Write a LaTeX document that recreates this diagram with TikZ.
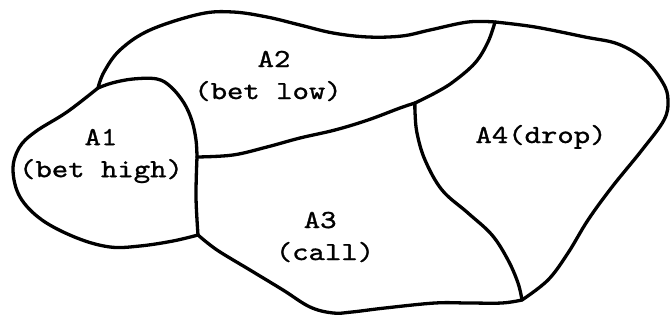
\documentclass[tikz,border=0pt]{standalone}
\usepackage{fontspec}
\setmonofont{lmmono10-regular.otf}[FakeBold=1.0]
\begin{document}
\begin{tikzpicture}[x=1pt,y=-1pt,
  edge/.style={line width=3.3pt,line cap=round,line join=round},
  lbl/.style={font=\ttfamily\fontsize{26}{32}\selectfont,align=center,inner sep=0pt,xscale=1.2,transform shape}]
\useasboundingbox (0,0) rectangle (670,321);
\fill[white] (0,0) rectangle (670,321);
% junctions
\coordinate (P1) at (98,88);
\coordinate (P2) at (197,157);
\coordinate (P3) at (198,235);
\coordinate (P4) at (495,22);
\coordinate (P5) at (415,103);
\coordinate (P6) at (522,300);
% A1 boundary
\draw[edge] plot[smooth,tension=0.6] coordinates {(P1) (112,83) (133,79) (157,79) (171,87) (184,103) (192,121) (196,140) (P2)};
\draw[edge] plot[smooth,tension=0.6] coordinates {(P2) (196,197) (P3)};
\draw[edge] plot[smooth,tension=0.6] coordinates {(P3) (173,241) (140,246) (110,247) (77,238) (42,220) (20,197) (13,170) (19,148) (35,132) (67,112) (P1)};
% outer boundary
\draw[edge] plot[smooth,tension=0.6] coordinates {(P1) (104,72) (120,50) (150,30) (200,14) (233,12) (267,17) (300,25) (333,33) (368,37) (402,36) (430,30) (468,22) (P4)};
\draw[edge] plot[smooth,tension=0.6] coordinates {(P4) (535,27) (585,37) (618,44) (645,60) (663,83) (668,100) (664,120) (642,150) (612,187) (588,220) (568,253) (548,280) (P6)};
\draw[edge] plot[smooth,tension=0.6] coordinates {(P6) (502,303) (468,303) (435,303) (385,308) (352,312) (333,313) (310,307) (283,290) (250,270) (217,250) (P3)};
% dividers
\draw[edge] plot[smooth,tension=0.6] coordinates {(P2) (233,155) (267,147) (300,138) (335,130) (368,120) (400,108) (P5)};
\draw[edge] plot[smooth,tension=0.6] coordinates {(P5) (435,93) (453,82) (475,63) (488,42) (P4)};
\draw[edge] plot[smooth,tension=0.6] coordinates {(P5) (415,112) (417,133) (425,160) (442,190) (468,213) (492,235) (508,260) (518,283) (P6)};
% labels
\node[lbl] (a1) at (101,156) {A1\\(bet high)};
\node[lbl] (a2) at (268,76) {\hspace*{10pt}A2\\(bet low)};
\node[lbl] (a3) at (325,237) {A3\hspace*{8pt}\\(call)};
\node[lbl,anchor=base] (a4) at (541,143) {A4(drop)};
\end{tikzpicture}
\end{document}
